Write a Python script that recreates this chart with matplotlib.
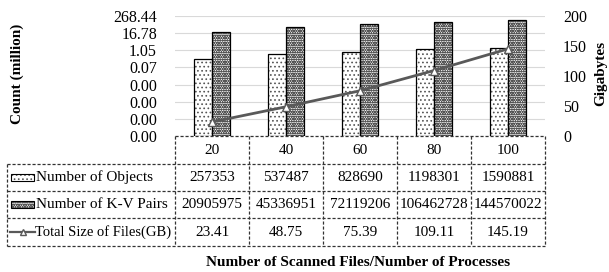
# ----------------------------------------
# Import Required Libraries
# ----------------------------------------
import matplotlib
matplotlib.use("Agg")
import matplotlib.pyplot as plt
import numpy as np

# ----------------------------------------
# Chart Data
# ----------------------------------------
categories = ["20", "40", "60", "80", "100"]
num_objects = [257353, 537487, 828690, 1198301, 1590881]
num_kv_pairs = [20905975, 45336951, 72119206, 106462728, 144570022]
total_size_gb = [23.41, 48.75, 75.39, 109.11, 145.19]
row_labels = ["Number of Objects", "Number of K-V Pairs", "Total Size of Files(GB)"]
size_labels = ["23.41", "48.75", "75.39", "109.11", "145.19"]

plt.rcParams["font.family"] = ["Liberation Serif", "DejaVu Serif"]
plt.rcParams["hatch.linewidth"] = 0.7

W, H = 609, 272
fig = plt.figure(figsize=(W / 100, H / 100), dpi=100)

# plot area in pixel coords
px_left, px_right, px_top, px_bottom = 175, 545, 16, 136
ax = fig.add_axes([px_left / W, 1 - px_bottom / H, (px_right - px_left) / W, (px_bottom - px_top) / H])

# hatch styles: (hatch, hatch colour)
obj_style = ("....", "#555555")
kv_style = ("ooooooo", "#555555")

x = np.arange(len(categories))
bw = 0.245
ax.set_yscale("log", base=16)
ax.set_ylim(16 ** 0 / 1e6, 16 ** 7 / 1e6)
ax.set_xlim(-0.5, len(categories) - 0.5)
for vals, off, (hatch, hc) in [(num_objects, -bw / 2, obj_style), (num_kv_pairs, bw / 2, kv_style)]:
    ax.bar(x + off, np.array(vals) / 1e6, width=bw, bottom=1e-6,
           color="white", edgecolor=hc, linewidth=0, hatch=hatch, zorder=3)
    ax.bar(x + off, np.array(vals) / 1e6, width=bw, bottom=1e-6,
           fill=False, edgecolor="black", linewidth=0.9, zorder=4)

yt = 16.0 ** np.arange(8) / 1e6
ax.set_yticks(yt)
ax.set_yticklabels([f"{v:.2f}" for v in yt])
ax.minorticks_off()
ax.yaxis.grid(True, color="#d9d9d9", linewidth=0.8, zorder=0)
ax.set_xticks([])
ax.tick_params(axis="y", length=0, pad=13, labelsize=11.5)
for s in ax.spines.values():
    s.set_visible(False)
ax.set_ylabel("Count (million)", fontweight="bold", fontsize=11, va="center")
ax.yaxis.set_label_coords((17 - px_left) / (px_right - px_left), 0.52)

# right axis with line
ax2 = ax.twinx()
ax2.plot(x, total_size_gb, color="#595959", linewidth=2, marker="^",
         markersize=6, markerfacecolor="white", markeredgecolor="#595959", zorder=5)
ax2.set_ylim(0, 200)
ax2.set_yticks([0, 50, 100, 150, 200])
ax2.tick_params(axis="y", length=0, pad=13, labelsize=11.5)
for s in ax2.spines.values():
    s.set_visible(False)
ax2.set_ylabel("Gigabytes", fontweight="bold", fontsize=11, va="center")
ax2.yaxis.set_label_coords((601 - px_left) / (px_right - px_left), 0.52)

# ----------------------------------------
# Data table drawn in pixel coordinates
# ----------------------------------------
tab = fig.add_axes([0, 0, 1, 1])
tab.set_xlim(0, W)
tab.set_ylim(H, 0)
tab.axis("off")
tab.patch.set_alpha(0)

col_edges = [px_left + i * (px_right - px_left) / len(categories) for i in range(len(categories) + 1)]
row_edges = [136, 164, 191, 218, 246]
label_left = 7
ls = dict(color="#333333", linewidth=0.9, linestyle=(0, (2.5, 1.5)))

# horizontal lines
tab.plot([px_left, px_right], [row_edges[0]] * 2, **ls)
for y in row_edges[1:]:
    tab.plot([label_left, px_right], [y, y], **ls)
# vertical lines
for xe in col_edges:
    tab.plot([xe, xe], [row_edges[0], row_edges[-1]], **ls)
tab.plot([label_left, label_left], [row_edges[1], row_edges[-1]], **ls)

fs = 11
for i, c in enumerate(categories):
    cx = (col_edges[i] + col_edges[i + 1]) / 2
    tab.text(cx, (row_edges[0] + row_edges[1]) / 2, c, ha="center", va="center", fontsize=fs)
    rows = [str(num_objects[i]), str(num_kv_pairs[i]), size_labels[i]]
    for r, txt in enumerate(rows):
        cy = (row_edges[r + 1] + row_edges[r + 2]) / 2
        tab.text(cx, cy, txt, ha="center", va="center", fontsize=fs)

# row labels with legend keys
for r, lab in enumerate(row_labels):
    cy = (row_edges[r + 1] + row_edges[r + 2]) / 2
    tab.text(36 if r < 2 else 35, cy, lab, ha="left", va="center", fontsize=fs if r < 2 else 10.5)
for (hatch, hc), r in [(obj_style, 0), (kv_style, 1)]:
    cy = (row_edges[r + 1] + row_edges[r + 2]) / 2
    tab.add_patch(plt.Rectangle((11, cy - 3.5), 23, 7, facecolor="white",
                                edgecolor=hc, linewidth=0, hatch=hatch))
    tab.add_patch(plt.Rectangle((11, cy - 3.5), 23, 7, fill=False,
                                edgecolor="black", linewidth=0.8))
cy = (row_edges[3] + row_edges[4]) / 2
tab.plot([10, 22.5, 35], [cy, cy, cy], color="#595959", linewidth=1.6, marker="^",
         markevery=[1], markersize=5, markerfacecolor="white", markeredgecolor="#595959")

tab.text(358, 262, "Number of Scanned Files/Number of Processes", ha="center",
         va="center", fontsize=11, fontweight="bold")

fig.savefig("out.png", dpi=100)
